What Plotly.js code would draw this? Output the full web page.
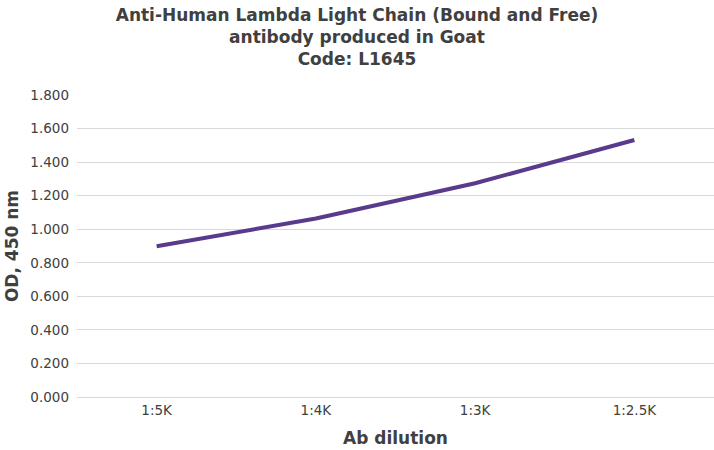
<!DOCTYPE html>
<html><head><meta charset="utf-8">
<script src="https://cdn.plot.ly/plotly-3.0.1.min.js"></script>
<style>html,body{margin:0;padding:0;background:#fff}#chart{width:714px;height:450px}</style>
</head><body><div id="chart"></div>
<script>
const categories = ["1:5K", "1:4K", "1:3K", "1:2.5K"];
const odValues = [0.898, 1.064, 1.274, 1.532];
const yTickVals = [0, 0.2, 0.4, 0.6, 0.8, 1.0, 1.2, 1.4, 1.6, 1.8];
const yTickText = ["0.000","0.200","0.400","0.600","0.800","1.000","1.200","1.400","1.600","1.800"];

const font = "DejaVu Sans, Verdana, sans-serif";
Plotly.newPlot("chart", [{
  x: categories, y: odValues, type: "scatter", mode: "lines",
  line: {color: "#5a3a8c", width: 4}, hoverinfo: "none"
}], {
  width: 714, height: 450,
  margin: {l: 77, r: 0, t: 95, b: 53},
  paper_bgcolor: "#fff", plot_bgcolor: "#fff",
  showlegend: false,
  title: {text: "<b>Anti-Human Lambda Light Chain (Bound and Free)<br>antibody produced in Goat<br>Code: L1645</b>",
    x: 0.5, xanchor: "center", y: 0.953, yanchor: "top",
    font: {family: font, size: 17, color: "#404040"}},
  xaxis: {type: "category", range: [-0.5, 3.5], showgrid: false, zeroline: false,
    showline: false, ticks: "", ticklabelstandoff: 3, tickfont: {family: font, size: 13.5, color: "#404040"},
    title: {text: "<b>Ab dilution</b>", font: {family: font, size: 17, color: "#404040"}, standoff: 15}},
  yaxis: {range: [0, 1.8], tickvals: yTickVals, ticktext: yTickText,
    showgrid: true, gridcolor: "#d9d9d9", gridwidth: 1, zeroline: true, zerolinecolor: "#d9d9d9",
    ticks: "", ticklabelstandoff: 7, tickfont: {family: font, size: 13.5, color: "#404040"},
    title: {text: "<b>OD, 450 nm</b>", font: {family: font, size: 17, color: "#404040"}, standoff: 7}}
}, {staticPlot: true});
</script></body></html>
